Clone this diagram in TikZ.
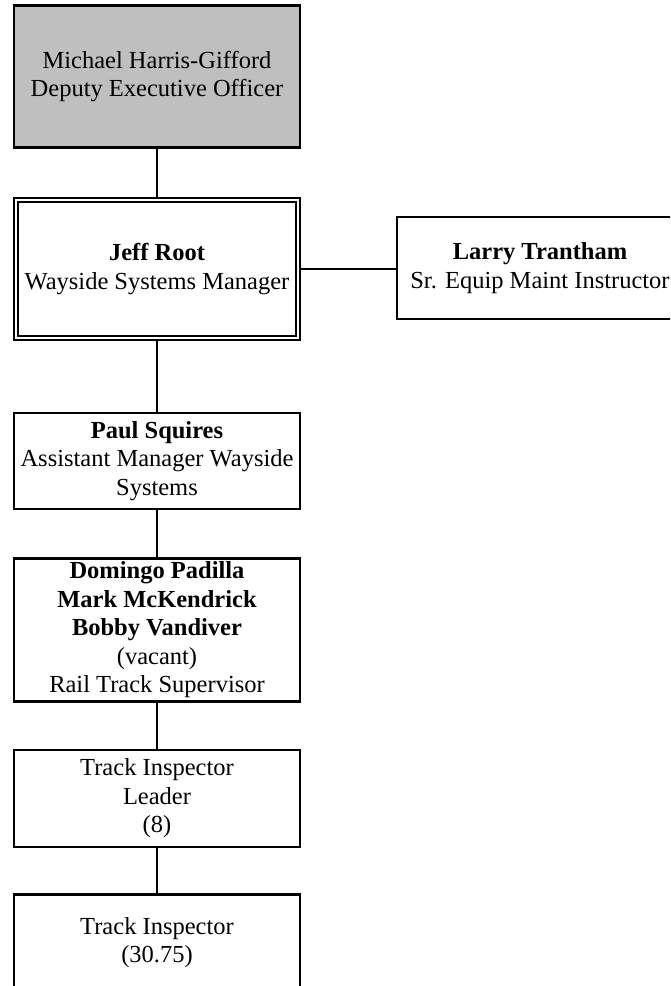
\documentclass[tikz,border=0pt]{standalone}
\usepackage{fontspec}
\setmainfont{Liberation Serif}

\begin{document}
\begin{tikzpicture}[x=1pt, y=-1pt,
  box/.style={draw, line width=2.2pt, minimum width=286pt, inner sep=0pt,
              font=\fontsize{24.5}{28.5}\selectfont, align=center},
  topbox/.style={box, fill=black!25, minimum height=142pt},
  mgrbox/.style={box, double, line width=2pt, double distance=2pt,
                 minimum width=282pt, minimum height=138pt},
  link/.style={line width=2pt}
]
\useasboundingbox (0,0) rectangle (670,986);
\clip (0,0) rectangle (670,986);

%% Executive at the top
\node[topbox] (deo) at (157,76.5) {Michael Harris-Gifford\\Deputy Executive Officer};

%% Manager with double frame, and the instructor beside him
\node[mgrbox] (root) at (157,269) {\textbf{Jeff Root}\\Wayside Systems Manager};
\node[box, minimum height=102pt] (trainer) at (540,268)
  {\textbf{Larry Trantham}\\Sr. Equip Maint Instructor};
\draw[link] (deo) -- (root);
\draw[link] (root.east) -- (root.east -| trainer.west);

%% Chain of command below the manager
\node[box, minimum height=96pt] (asst) at (157,461)
  {\textbf{Paul Squires}\\Assistant Manager Wayside\\Systems};
\node[box, minimum height=143pt] (sup) at (157,630)
  {\textbf{Domingo Padilla}\\\textbf{Mark McKendrick}\\\textbf{Bobby Vandiver}\\(vacant)\\Rail Track Supervisor};
\node[box, minimum height=97pt] (lead) at (157,798.5) {Track Inspector\\Leader\\(8)};
\node[box, minimum height=96pt] (insp) at (157,942.5) {Track Inspector\\(30.75)};

\draw[link] (root) -- (asst);
\draw[link] (asst) -- (sup);
\draw[link] (sup) -- (lead);
\draw[link] (lead) -- (insp);
\end{tikzpicture}
\end{document}
